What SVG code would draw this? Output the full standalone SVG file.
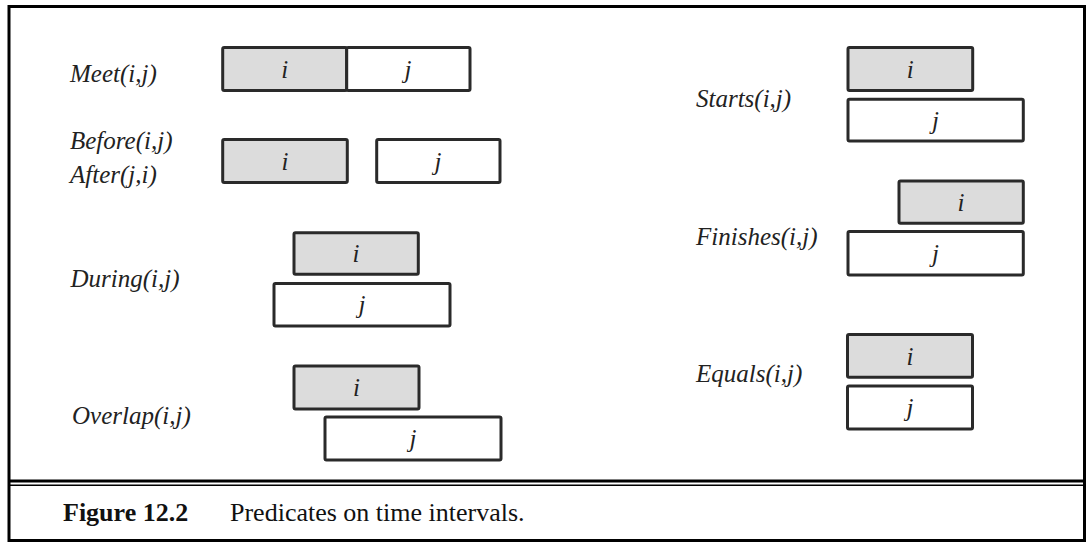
<svg xmlns="http://www.w3.org/2000/svg" width="1089" height="543" viewBox="0 0 1089 543">
<style>
.lbl{font-family:"Liberation Serif","Times New Roman",serif;font-style:italic;font-size:25px;fill:#222}
.bt{font-family:"Liberation Serif","Times New Roman",serif;font-style:italic;font-size:25px;fill:#222;text-anchor:middle}
.gi{fill:#dcdcdc;stroke:#2a2a2a;stroke-width:3}
.wj{fill:#ffffff;stroke:#2a2a2a;stroke-width:3}
.cap{font-family:"Liberation Serif","Times New Roman",serif;font-size:26px;fill:#111}
</style>
<rect x="0" y="0" width="1089" height="543" fill="#ffffff"/>
<rect x="9" y="6.5" width="1075.5" height="534" fill="none" stroke="#000" stroke-width="3"/>
<line x1="9" y1="481" x2="1084.5" y2="481" stroke="#000" stroke-width="3"/>
<line x1="9" y1="485.3" x2="1084.5" y2="485.3" stroke="#000" stroke-width="1.5"/>

<g id="meet">
<text class="lbl" x="70" y="82">Meet(i,j)</text>
<rect class="gi" x="222.7" y="47.5" width="124" height="43" rx="1.5"/>
<rect class="wj" x="346.7" y="47.5" width="123.3" height="43" rx="1.5"/>
<text class="bt" x="284.7" y="78">i</text>
<text class="bt" x="408" y="78">j</text>
</g>

<g id="before">
<text class="lbl" x="70" y="149">Before(i,j)</text>
<text class="lbl" x="70" y="183">After(j,i)</text>
<rect class="gi" x="222.7" y="139.5" width="124.6" height="43" rx="1.5"/>
<rect class="wj" x="376.7" y="139.5" width="123.3" height="43" rx="1.5"/>
<text class="bt" x="285" y="170">i</text>
<text class="bt" x="438" y="170">j</text>
</g>

<g id="during">
<text class="lbl" x="70.5" y="287">During(i,j)</text>
<rect class="gi" x="294" y="232.7" width="124.3" height="41.5" rx="1.5"/>
<rect class="wj" x="274" y="283.5" width="176" height="42.5" rx="1.5"/>
<text class="bt" x="356" y="262">i</text>
<text class="bt" x="362" y="313">j</text>
</g>

<g id="overlap">
<text class="lbl" x="72" y="424">Overlap(i,j)</text>
<rect class="gi" x="294" y="366" width="125" height="43" rx="1.5"/>
<rect class="wj" x="325" y="417" width="176" height="43" rx="1.5"/>
<text class="bt" x="356.5" y="396">i</text>
<text class="bt" x="413" y="447">j</text>
</g>

<g id="starts">
<text class="lbl" x="696" y="107">Starts(i,j)</text>
<rect class="gi" x="848" y="47.5" width="124.7" height="43" rx="1.5"/>
<rect class="wj" x="848" y="99.3" width="175.3" height="41.7" rx="1.5"/>
<text class="bt" x="910.3" y="78">i</text>
<text class="bt" x="935.5" y="129">j</text>
</g>

<g id="finishes">
<text class="lbl" x="696" y="245">Finishes(i,j)</text>
<rect class="gi" x="899" y="181" width="124.3" height="42.3" rx="1.5"/>
<rect class="wj" x="848" y="231.5" width="175.3" height="43.5" rx="1.5"/>
<text class="bt" x="961" y="211">i</text>
<text class="bt" x="935.5" y="262">j</text>
</g>

<g id="equals">
<text class="lbl" x="696" y="382">Equals(i,j)</text>
<rect class="gi" x="847.5" y="334.5" width="125" height="42.8" rx="1.5"/>
<rect class="wj" x="847.5" y="386" width="125" height="43" rx="1.5"/>
<text class="bt" x="910" y="365">i</text>
<text class="bt" x="910" y="416">j</text>
</g>

<g id="connectors"></g>

<g id="caption">
<text class="cap" x="63" y="521" font-weight="bold">Figure 12.2</text>
<text class="cap" x="230" y="521">Predicates on time intervals.</text>
</g>
</svg>
